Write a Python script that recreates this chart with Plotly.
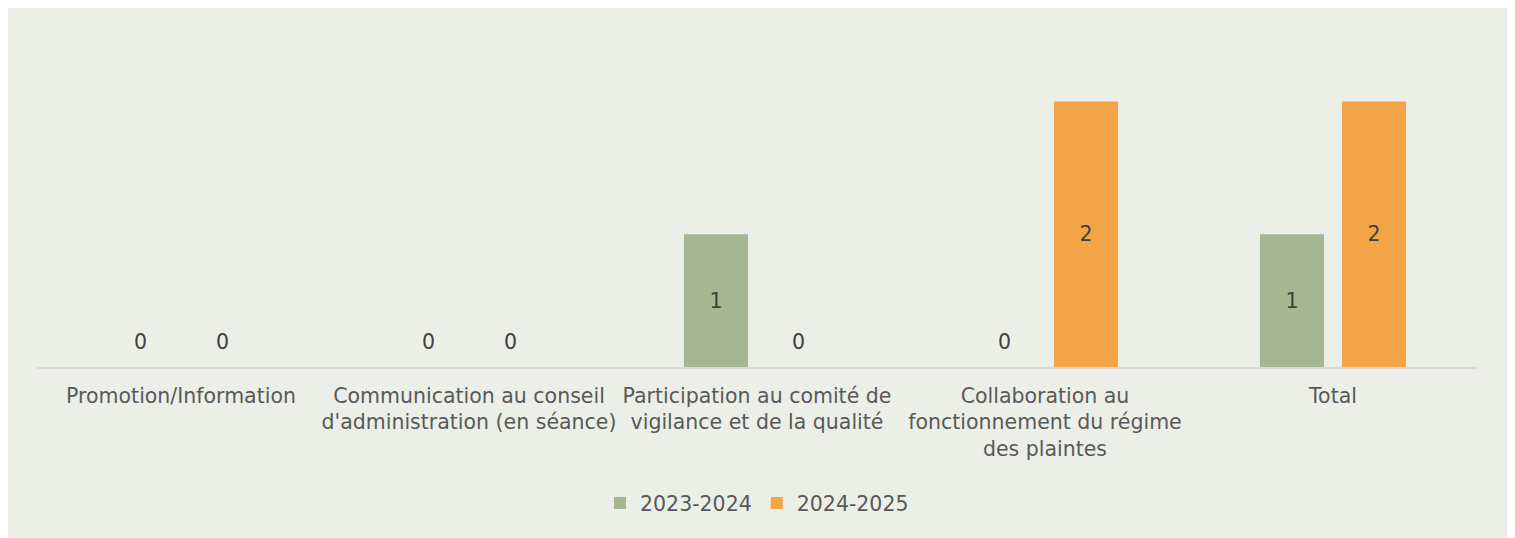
import plotly.graph_objects as go

categories = [
    "Promotion/Information",
    "Communication au conseil<br>d'administration (en séance)",
    "Participation au comité de<br>vigilance et de la qualité",
    "Collaboration au<br>fonctionnement du régime<br>des plaintes",
    "Total",
]
series_names = ["2023-2024", "2024-2025"]
values_2023 = [0, 0, 1, 0, 1]
values_2024 = [0, 0, 0, 2, 2]
colors = ["#A6B592", "#F2A446"]

FONT = "DejaVu Sans"
SIZE = 20.5

fig = go.Figure()
for name, vals, col in zip(series_names, [values_2023, values_2024], colors):
    fig.add_trace(go.Bar(
        x=categories, y=vals, name=name,
        marker=dict(color=col, line=dict(width=0)),
        text=[str(v) if v else "" for v in vals],
        textposition="inside", insidetextanchor="middle",
        insidetextfont=dict(family=FONT, size=SIZE, color="#404040"),
        textangle=0,
    ))

# zero values get their label just above the axis (like Excel)
annotations = []
for k, vals in enumerate([values_2023, values_2024]):
    shift = -41 if k == 0 else 41
    for cat, v in zip(categories, vals):
        if v == 0:
            annotations.append(dict(
                x=cat, y=v, xref="x", yref="y", text=str(v), showarrow=False,
                xshift=shift, yshift=11, yanchor="bottom",
                font=dict(family=FONT, size=SIZE, color="#404040"),
            ))

# the page puts the figure 8px in, so size / margins are shrunk by that
W, H = 1507, 530
ml, mr, mt, mb = 29, 38, 27, 171
plot_h = H - mt - mb
plot_w = W - ml - mr

# light panel behind the chart
shapes = [dict(
    type="rect", xref="paper", yref="paper", layer="below",
    x0=-ml / plot_w, x1=(W - 7 - ml) / plot_w,
    y0=-(mb + 10) / plot_h, y1=(plot_h + mt) / plot_h,
    fillcolor="#ECEFE8", line=dict(width=0),
)]

fig.update_layout(
    width=W, height=H,
    margin=dict(l=ml, r=mr, t=mt, b=mb),
    paper_bgcolor="#E1E8F0",
    plot_bgcolor="rgba(0,0,0,0)",
    barmode="group", bargap=0.43, bargroupgap=0.22,
    font=dict(family=FONT, size=SIZE, color="#595959"),
    shapes=shapes, annotations=annotations,
    legend=dict(orientation="h", x=0.5, xanchor="center", y=-0.41, yanchor="middle",
                font=dict(family=FONT, size=SIZE, color="#595959"),
                bgcolor="rgba(0,0,0,0)", itemwidth=30, traceorder="normal"),
    showlegend=True,
)
fig.update_xaxes(showline=True, linecolor="#D9D9D9", linewidth=2, ticks="",
                 ticklabelstandoff=9,
                 tickfont=dict(family=FONT, size=SIZE, color="#595959"))
fig.update_yaxes(visible=False, range=[0, 2.5])

fig.write_html("out.html")
